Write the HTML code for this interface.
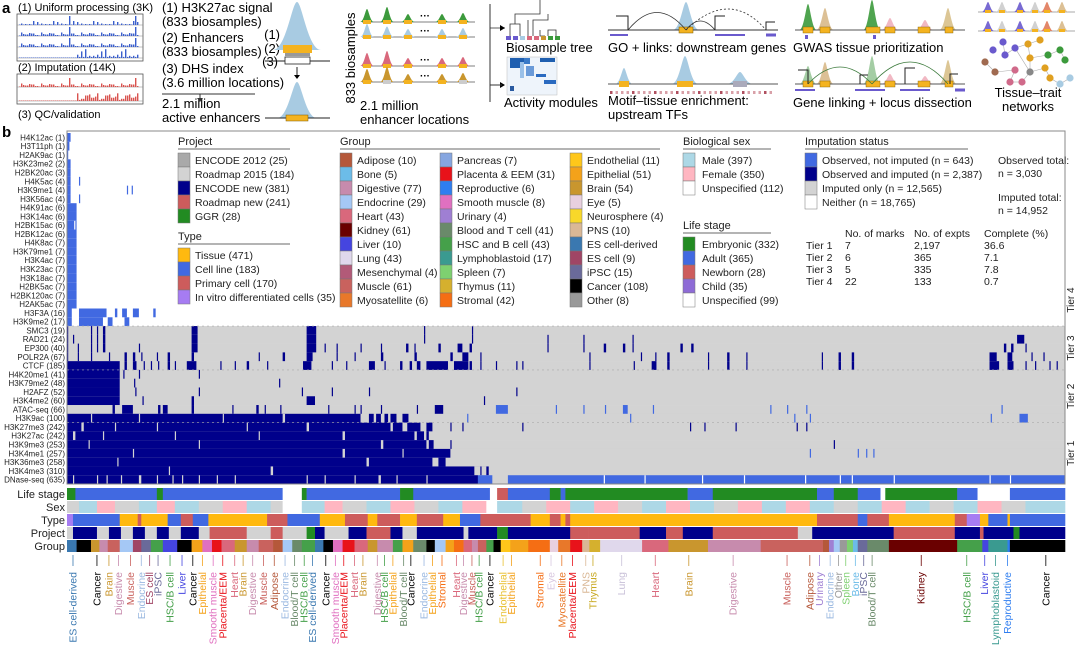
<!DOCTYPE html>
<html><head><meta charset="utf-8"><style>
html,body{margin:0;padding:0;background:#fff;width:1080px;height:645px;overflow:hidden}
svg{display:block;font-family:"Liberation Sans",Arial,sans-serif}
</style></head><body>
<svg id="fig" width="1080" height="645" viewBox="0 0 1080 645" xmlns="http://www.w3.org/2000/svg">
<g id="panelA">
<text x="2" y="13" font-size="15" font-weight="bold">a</text>
<text x="18" y="11" font-size="11">(1) Uniform processing (3K)</text>
<rect x="17" y="14" width="126" height="47" fill="none" stroke="#555" stroke-width="0.8"/>
<text x="18" y="71" font-size="11">(2) Imputation (14K)</text>
<rect x="17" y="74" width="126" height="30" fill="none" stroke="#555" stroke-width="0.8"/>
<text x="18" y="118" font-size="11">(3) QC/validation</text>
<g font-size="13">
<text x="162" y="12">(1) H3K27ac signal</text>
<text x="162" y="26">(833 biosamples)</text>
<text x="162" y="42">(2) Enhancers</text>
<text x="162" y="56">(833 biosamples)</text>
<text x="162" y="73">(3) DHS index</text>
<text x="162" y="87">(3.6 million locations)</text>
<text x="162" y="108">2.1 million</text>
<text x="162" y="122">active enhancers</text>
</g>
<line x1="162" y1="94" x2="255" y2="94" stroke="#333"/>
<line x1="200" y1="94" x2="200" y2="99" stroke="#333"/>
<polygon points="197,98 203,98 200,102" fill="#333"/>
<g font-size="13" text-anchor="end">
<text x="280" y="39">(1)</text><text x="280" y="53">(2)</text><text x="278" y="66">(3)</text>
</g>
<text transform="translate(355,58) rotate(-90)" font-size="13" text-anchor="middle">833 biosamples</text>
<text x="360" y="110" font-size="13">2.1 million</text>
<text x="360" y="124" font-size="13">enhancer locations</text>
<line x1="490" y1="4" x2="490" y2="102" stroke="#333"/>
<text x="506" y="52" font-size="13">Biosample tree</text>
<text x="504" y="107" font-size="13">Activity modules</text>
<text x="608" y="52" font-size="13">GO + links: downstream genes</text>
<text x="608" y="105" font-size="13">Motif–tissue enrichment:</text>
<text x="608" y="119" font-size="13">upstream TFs</text>
<text x="793" y="52" font-size="13">GWAS tissue prioritization</text>
<text x="793" y="107" font-size="13">Gene linking + locus dissection</text>
<text x="1028" y="97" font-size="13" text-anchor="middle">Tissue–trait</text>
<text x="1028" y="111" font-size="13" text-anchor="middle">networks</text>
</g>
<g id="panelB">
<text x="2" y="137" font-size="15" font-weight="bold">b</text>
</g>
</svg>
<script>
// ===== Heatmap data (sample columns 0..833) =====
const nSamples = 833;
const marks = ["H4K12ac (1)","H3T11ph (1)","H2AK9ac (1)","H3K23me2 (2)","H2BK20ac (3)","H4K5ac (4)","H3K9me1 (4)","H3K56ac (4)","H4K91ac (6)","H3K14ac (6)","H2BK15ac (6)","H2BK12ac (6)","H4K8ac (7)","H3K79me1 (7)","H3K4ac (7)","H3K23ac (7)","H3K18ac (7)","H2BK5ac (7)","H2BK120ac (7)","H2AK5ac (7)","H3F3A (16)","H3K9me2 (17)","SMC3 (19)","RAD21 (24)","EP300 (40)","POLR2A (67)","CTCF (185)","H4K20me1 (41)","H3K79me2 (48)","H2AFZ (52)","H3K4me2 (60)","ATAC-seq (66)","H3K9ac (100)","H3K27me3 (242)","H3K27ac (242)","H3K9me3 (253)","H3K4me1 (257)","H3K36me3 (258)","H3K4me3 (310)","DNase-seq (635)"];
const markTier = [4,4,4,4,4,4,4,4,4,4,4,4,4,4,4,4,4,4,4,4,4,4,3,3,3,3,3,2,2,2,2,2,2,1,1,1,1,1,1,1];
// segments per mark: [startSample, endSample, status] status 1=observed only, 2=observed+imputed, 3=imputed only, 0=neither
const seg4b = [[0,8,1]];
const segments = [
 [[0,3,1]],[[0,2,1]],[[0,1,1]],[[0,3,1]],[[0,3,1]],
 [[0,3,1],[10,11,1]],
 [[0,3,1],[50,51,1],[54,55,1]],
 [[0,3,1],[10,11,1]],
 seg4b,seg4b,[[0,6,1],[7,8,1]],seg4b,seg4b,seg4b,seg4b,seg4b,seg4b,seg4b,seg4b,seg4b,
 [[0,4,1],[10,33,1],[40,42,1],[46,50,1],[55,60,1],[72,74,1]],
 [[0,4,1],[10,30,1],[34,38,1],[48,52,1]],
 [[0,1,2],[20,21,2],[25,26,2],[30,32,2],[104,109,2],[200,208,2],[298,299,2],[338,339,2]],
 [[0,1,2],[5,6,2],[20,21,2],[25,26,2],[30,32,2],[104,109,2],[200,208,2],[298,299,2],[338,339,2],[401,402,2],[431,432,2],[472,473,2],[793,799,2]],
 [[0,1,2],[9,10,2],[20,21,2],[25,26,2],[30,32,2],[60,61,2],[104,109,2],[200,208,2],[215,216,2],[225,226,2],[245,246,2],[262,263,2],[283,285,2],[290,291,2],[310,312,2],[326,330,2],[336,338,2],[401,402,2],[431,432,2],[448,450,2],[464,466,2],[472,473,2],[512,514,2],[521,523,2],[782,784,2],[788,790,2],[800,801,2]],
 [[0,1,2],[9,10,2],[20,21,2],[35,36,2],[48,50,2],[55,57,2],[62,63,2],[75,76,2],[84,86,2],[104,106,2],[160,161,2],[180,182,2],[200,205,2],[225,226,2],[240,241,2],[262,264,2],[290,292,2],[320,322,2],[330,335,2],[345,346,2],[436,437,2],[479,480,2],[491,492,2],[501,503,2],[535,536,2],[551,553,2],[567,568,2],[630,631,2],[644,646,2],[655,657,2],[770,776,2],[785,789,2],[805,806,2],[815,816,2]],
 [[0,44,2],[48,50,2],[55,58,2],[64,65,2],[70,71,2],[76,77,2],[84,86,2],[90,91,2],[100,108,2],[128,129,2],[140,141,2],[150,152,2],[167,168,2],[197,204,2],[221,222,2],[233,234,2],[252,257,2],[265,266,2],[278,280,2],[286,288,2],[292,295,2],[300,318,2],[323,335,2],[336,338,2],[345,346,2],[358,359,2],[375,376,2],[380,381,2],[436,437,2],[473,474,2],[488,492,2],[501,503,2],[535,536,2],[551,553,2],[567,568,2],[630,631,2],[644,646,2],[655,657,2],[770,778,2],[785,790,2],[800,801,2],[808,809,2],[820,821,2],[826,827,2]],
 [[0,44,2],[47,48,2],[60,61,2],[110,111,2]],
 [[0,44,2],[56,57,2],[177,178,2]],
 [[0,44,2],[57,58,2],[110,111,2],[196,197,2],[221,222,2],[252,253,2],[375,376,2]],
 [[0,44,2],[63,64,2],[104,106,2],[200,207,2],[348,349,2]],
 [[38,40,2],[46,55,2],[76,78,2],[80,84,2],[104,106,2],[138,139,2],[158,160,2],[165,166,2],[178,179,2],[218,219,2],[240,241,2],[245,246,2],[262,263,2],[292,293,2],[307,314,2],[358,368,1],[408,409,1],[431,432,1],[449,450,1],[464,468,1],[489,490,1],[587,588,1],[601,602,1],[617,618,1],[780,781,1]],
 [[0,245,2],[20,21,3],[60,61,3],[130,131,3],[180,182,3],[252,256,2],[258,262,2],[265,268,2],[270,275,2],[280,285,2],[334,335,1],[470,471,1],[607,608,1],[620,621,1],[771,772,1],[795,802,1]],
 [[0,270,2],[12,14,3],[40,41,3],[75,76,3],[150,151,3],[200,202,3],[272,280,2],[284,295,2],[300,305,2],[320,321,2],[330,331,2],[380,381,2],[520,521,2],[532,533,2],[558,559,2],[609,610,2],[617,618,2]],
 [[0,290,2],[5,7,3],[30,31,3],[90,91,3],[160,161,3],[230,232,3],[292,298,2],[300,302,2]],
 [[0,300,2],[18,19,3],[110,111,3],[262,264,3],[302,306,2],[320,321,2],[640,641,2]],
 [[0,320,2],[55,56,3],[230,232,3],[280,281,3],[620,621,1],[660,661,1],[667,668,1],[673,674,1]],
 [[0,316,2],[42,43,3],[250,252,3],[305,310,3]],
 [[0,352,2],[85,86,3],[170,172,3],[340,345,3],[346,350,3]],
 [[0,343,2],[5,6,3],[25,26,3],[33,34,3],[45,46,3],[60,62,3],[75,76,3],[88,89,3],[96,97,3],[110,111,3],[125,126,3],[140,141,3],[200,201,3],[215,216,3],[240,241,3],[260,262,3],[275,276,3],[300,301,3],[343,355,1],[368,833,1],[448,449,0],[482,483,0],[530,531,0],[565,566,0],[616,617,0],[645,646,0],[655,656,0],[690,691,0],[770,771,0],[787,788,0]]
];
// ===== Annotation tracks: runs [endSample, category] =====
const lifeStageRuns = [[7,'E'],[75,'A'],[80,'E'],[180,'A'],[196,'W'],[200,'E'],[278,'A'],[289,'E'],[353,'A'],[359,'W'],[368,'N'],[403,'A'],[412,'E'],[416,'A'],[518,'E'],[539,'A'],[626,'E'],[640,'A'],[660,'E'],[679,'A'],[683,'W'],[743,'E'],[760,'A'],[787,'W'],[833,'A']];
const sexRuns = [[10,'U'],[25,'M'],[40,'F'],[60,'U'],[75,'M'],[90,'F'],[110,'M'],[130,'U'],[150,'F'],[170,'M'],[180,'U'],[196,'W'],[215,'M'],[230,'F'],[250,'U'],[270,'M'],[290,'F'],[310,'U'],[330,'M'],[350,'F'],[359,'W'],[380,'M'],[400,'U'],[420,'F'],[440,'M'],[460,'F'],[480,'U'],[500,'M'],[520,'F'],[540,'M'],[560,'U'],[580,'F'],[600,'M'],[620,'F'],[640,'M'],[660,'U'],[680,'M'],[700,'F'],[720,'M'],[740,'U'],[760,'M'],[780,'F'],[800,'U'],[833,'M']];
const typeRuns = [[5,'V'],[44,'C'],[59,'T'],[62,'P'],[84,'T'],[95,'C'],[105,'P'],[118,'C'],[167,'T'],[184,'P'],[211,'C'],[232,'T'],[251,'P'],[259,'T'],[278,'P'],[292,'T'],[314,'P'],[328,'T'],[345,'C'],[387,'P'],[403,'T'],[412,'P'],[416,'T'],[420,'P'],[626,'T'],[660,'P'],[668,'C'],[686,'P'],[741,'T'],[751,'P'],[762,'V'],[769,'T'],[785,'C'],[787,'T'],[833,'C']];
const projectRuns = [[5,'R'],[25,'N'],[35,'R'],[45,'N'],[55,'R'],[65,'N'],[75,'R'],[85,'N'],[95,'R'],[110,'N'],[119,'R'],[150,'RN'],[170,'R'],[180,'RN'],[200,'R'],[207,'G'],[215,'N'],[235,'R'],[250,'N'],[270,'RN'],[280,'N'],[292,'R'],[331,'N'],[335,'R'],[359,'N'],[368,'G'],[420,'N'],[435,'RN'],[478,'RN'],[500,'N'],[514,'RN'],[539,'N'],[579,'RN'],[610,'RN'],[622,'R'],[690,'N'],[741,'RN'],[762,'N'],[765,'RN'],[790,'N'],[795,'G'],[833,'N']];
const groupRuns = [[8,'ESd'],[20,'cancer'],[27,'brain'],[34,'dig'],[44,'muscle'],[55,'endo'],[62,'ES'],[70,'iPSC'],[80,'HSC'],[92,'liver'],[104,'cancer'],[113,'epi'],[121,'smooth'],[129,'placenta'],[140,'heart'],[150,'brain'],[160,'dig'],[172,'muscle'],[180,'adipose'],[188,'endo'],[196,'blood'],[207,'HSC'],[214,'ESd'],[222,'cancer'],[230,'smooth'],[240,'placenta'],[251,'heart'],[259,'brain'],[272,'dig'],[280,'HSC'],[289,'epi'],[300,'blood'],[307,'cancer'],[316,'endo'],[323,'epi'],[331,'stromal'],[338,'heart'],[343,'dig'],[350,'muscle'],[356,'HSC'],[362,'cancer'],[370,'endoth'],[385,'epi'],[403,'stromal'],[410,'eye'],[420,'myosat'],[430,'placenta'],[436,'pns'],[445,'thymus'],[480,'lung'],[502,'heart'],[535,'brain'],[579,'dig'],[631,'muscle'],[636,'adipose'],[640,'urinary'],[645,'endo'],[651,'other'],[656,'spleen'],[660,'bone'],[668,'iPSC'],[686,'blood'],[743,'kidney'],[764,'HSC'],[769,'liver'],[785,'lympho'],[787,'repro'],[833,'cancer']];
// group callout labels: [sampleIndex, label, groupKey]
const groupLabels = [[5,'ES cell-derived','ESd'],[25,'Cancer','cancer'],[35,'Brain','brain'],[43,'Digestive','dig'],[53,'Muscle','muscle'],[62,'Endocrine','endo'],[69,'ES cell','ES'],[76,'iPSC','iPSC'],[86,'HSC/B cell','HSC'],[96,'Liver','liver'],[105,'Cancer','cancer'],[113,'Epithelial','epi'],[122,'Smooth muscle','smooth'],[130,'Placenta/EEM','placenta'],[140,'Heart','heart'],[147,'Brain','brain'],[155,'Digestive','dig'],[164,'Muscle','muscle'],[173,'Adipose','adipose'],[182,'Endocrine','endo'],[190,'Blood/T cell','blood'],[198,'HSC/B cell','HSC'],[205,'ES cell-derived','ESd'],[216,'Cancer','cancer'],[224,'Smooth muscle','smooth'],[231,'Placenta/EEM','placenta'],[240,'Heart','heart'],[247,'Brain','brain'],[259,'Digestive','dig'],[265,'HSC/B cell','HSC'],[272,'Epithelial','epi'],[281,'Blood/T cell','blood'],[287,'Cancer','cancer'],[298,'Endocrine','endo'],[305,'Epithelial','epi'],[313,'Stromal','stromal'],[325,'Heart','heart'],[331,'Digestive','dig'],[338,'Muscle','muscle'],[344,'HSC/B cell','HSC'],[353,'Cancer','cancer'],[364,'Endothelial','endoth'],[371,'Epithelial','epi'],[395,'Stromal','stromal'],[404,'Eye','eye'],[413,'Myosatellite','myosat'],[422,'Placenta/EEM','placenta'],[433,'PNS','pns'],[439,'Thymus','thymus'],[463,'Lung','lung'],[491,'Heart','heart'],[519,'Brain','brain'],[556,'Digestive','dig'],[601,'Muscle','muscle'],[620,'Adipose','adipose'],[628,'Urinary','urinary'],[637,'Endocrine','endo'],[644,'Other','other'],[650,'Spleen','spleen'],[658,'Bone','bone'],[665,'iPSC','iPSC'],[672,'Blood/T cell','blood'],[713,'Kidney','kidney'],[751,'HSC/B cell','HSC'],[766,'Liver','liver'],[775,'Lymphoblastoid','lympho'],[785,'Reproductive','repro'],[817,'Cancer','cancer']];
// legend data
const projectLegend = [['ENCODE 2012 (25)','E12'],['Roadmap 2015 (184)','R'],['ENCODE new (381)','N'],['Roadmap new (241)','RN'],['GGR (28)','G']];
const typeLegend = [['Tissue (471)','T'],['Cell line (183)','C'],['Primary cell (170)','P'],['In vitro differentiated cells (35)','V']];
const groupLegend1 = [['Adipose (10)','adipose'],['Bone (5)','bone'],['Digestive (77)','dig'],['Endocrine (29)','endo'],['Heart (43)','heart'],['Kidney (61)','kidney'],['Liver (10)','liver'],['Lung (43)','lung'],['Mesenchymal (4)','mesench'],['Muscle (61)','muscle'],['Myosatellite (6)','myosat']];
const groupLegend2 = [['Pancreas (7)','pancreas'],['Placenta & EEM (31)','placenta'],['Reproductive (6)','repro'],['Smooth muscle (8)','smooth'],['Urinary (4)','urinary'],['Blood and T cell (41)','blood'],['HSC and B cell (43)','HSC'],['Lymphoblastoid (17)','lympho'],['Spleen (7)','spleen'],['Thymus (11)','thymus'],['Stromal (42)','stromal']];
const groupLegend3 = [['Endothelial (11)','endoth'],['Epithelial (51)','epi'],['Brain (54)','brain'],['Eye (5)','eye'],['Neurosphere (4)','neuro'],['PNS (10)','pns'],['ES cell-derived','ESd'],['ES cell (9)','ES'],['iPSC (15)','iPSC'],['Cancer (108)','cancer'],['Other (8)','other']];
const sexLegend = [['Male (397)','M'],['Female (350)','F'],['Unspecified (112)','W']];
const lifeLegend = [['Embryonic (332)','E'],['Adult (365)','A'],['Newborn (28)','N'],['Child (35)','Ch'],['Unspecified (99)','W']];
const imputeLegend = ['Observed, not imputed (n = 643)','Observed and imputed (n = 2,387)','Imputed only (n = 12,565)','Neither (n = 18,765)'];
const tierNames = ['Tier 1','Tier 2','Tier 3','Tier 4'];
const tierMarks = ['7','6','5','22'];
const tierExpts = ['2,197','365','335','133'];
const tierComplete = ['36.6','7.1','7.8','0.7'];

// ===== colours =====
const statusColor = {0:'#ffffff',1:'#4169e1',2:'#00008b',3:'#d3d3d3'};
const lifeColor = {E:'#228b22',A:'#4169e1',N:'#cd5c5c',Ch:'#8e6bd6',W:'#ffffff'};
const sexColor = {M:'#add8e6',F:'#ffb6c1',U:'#d3d3d3',W:'#ffffff'};
const typeColor = {T:'#ffb90f',C:'#4169e1',P:'#cd5c5c',V:'#a67cf2'};
const projColor = {E12:'#a9a9a9',R:'#d3d3d3',N:'#00008b',RN:'#cd5c5c',G:'#228b22'};
const grpColor = {adipose:'#b5583a',bone:'#6cbce8',dig:'#c78bad',endo:'#a5c8f5',heart:'#d9687c',kidney:'#6a0000',liver:'#4545e0',lung:'#e0d8ec',mesench:'#b25a78',muscle:'#c9625e',myosat:'#e8782a',pancreas:'#86a6e0',placenta:'#e8121a',repro:'#2f7ef0',smooth:'#e070c0',urinary:'#9f7fd3',blood:'#6a8a6a',HSC:'#45a04a',lympho:'#3a9a90',spleen:'#7ed070',thymus:'#d5b02e',stromal:'#f56e14',endoth:'#ffc71a',epi:'#f4a21a',brain:'#c9962e',eye:'#e8d0e0',neuro:'#f8d82a',pns:'#dab896',ESd:'#3a78b0',ES:'#a04565',iPSC:'#6a6a9a',cancer:'#000000',other:'#999999'};
const labelColor = Object.assign({}, grpColor, {lung:'#c8c0d8',eye:'#d8c8e0',endo:'#9ab8e0',thymus:'#c8a820',endoth:'#e8c030'});

// ===== scales =====
const HX0 = 67, HX1 = 1065, HY0 = 133, HY1 = 484;
const rowH = (HY1 - HY0) / marks.length;
const xScale = s => HX0 + s * (HX1 - HX0) / nSamples;
const yRow = i => HY0 + i * rowH;

const NS = 'http://www.w3.org/2000/svg';
const svg = document.getElementById('fig');
function mk(tag, attrs, parent) {
  const el = document.createElementNS(NS, tag);
  for (const k in attrs) el.setAttribute(k, attrs[k]);
  (parent || svg).appendChild(el);
  return el;
}
function txt(str, attrs, parent) { const t = mk('text', attrs, parent); t.textContent = str; return t; }

// ===== Panel a decorations =====
function peak(g, cx, base, h, w, color, op) {
  const d = `M${cx-w*2.2},${base} C${cx-w},${base} ${cx-w*0.45},${base-h} ${cx},${base-h} C${cx+w*0.45},${base-h} ${cx+w},${base} ${cx+w*2.2},${base} Z`;
  const p = mk('path', {d: d, fill: color, opacity: op || 1}, g);
  
  
  return p;
}
const pa = document.getElementById('panelA');
const trackGroup = mk('g', {}, pa);


[[25,'#3a5fcd'],[36,'#3a5fcd'],[47,'#3a5fcd'],[58,'#3a5fcd'],[87,'#d9534f'],[101,'#d9534f']].forEach((t,k)=>{
  mk('line',{x1:17,x2:143,y1:t[0],y2:t[0],stroke:'#888','stroke-width':0.6},trackGroup);
  const hs = k%3===0?[1,2,1,6,1,2,1,3,1,8]:[1,3,5,2,4,6,2,7,3,5];
  for (let j=0;j<60;j++){
    const x = 19 + j*2;
    const late = (k===3||k===5);
    let hh = hs[(j*7)%10]*0.5;
    if (late) hh = j>28 ? hs[(j*3)%10]*1.1 : 0.5;
    if (!late && (j===25||j===58)) hh = 9;
    mk('rect',{x:x,y:t[0]-hh,width:1.4,height:hh,fill:t[1]},trackGroup);
  }
});
const cone = mk('g',{},pa);


peak(cone,297,50,48,11,'#a8cbe2');
mk('rect',{x:283,y:45,width:29,height:8,fill:'#f4b320'},cone);
mk('rect',{x:285,y:53,width:25,height:3,fill:'#999'},cone);
mk('line',{x1:265,y1:61,x2:330,y2:61,stroke:'#222'},cone);
mk('rect',{x:285,y:57,width:25,height:7,fill:'#fff',stroke:'#222','stroke-width':0.8},cone);
mk('line',{x1:297,y1:67,x2:297,y2:76,stroke:'#222'},cone);
mk('polygon',{points:'294,75 300,75 297,79'},cone);
peak(cone,297,118,36,9,'#a8cbe2');
mk('line',{x1:265,y1:118,x2:330,y2:118,stroke:'#222'},cone);
mk('rect',{x:286,y:115,width:22,height:6,fill:'#f4b320',stroke:'#7a5a00','stroke-width':0.5},cone);
const rowsG = mk('g',{},pa);


[[22,'#3c9a3c'],[37,'#a8cbe2'],[66,'#d9687c'],[82,'#c9962e']].forEach(r=>{
  mk('line',{x1:362,y1:r[0],x2:475,y2:r[0],stroke:'#555','stroke-width':0.7},rowsG);
  [[367,13],[387,15],[408,8],[442,8],[463,9]].forEach((p,k)=>{
    peak(rowsG,p[0],r[0],p[1]*(r[1]==='#a8cbe2'&&k==1?0.7:1),3.2,r[1]);
    mk('rect',{x:p[0]-4,y:r[0]-2,width:8,height:4,fill:k%3==1&&r[0]>75?'#ccc':'#f4b320'},rowsG);
  });
  txt('···',{x:420,y:r[0]-3,'font-size':10,'font-weight':'bold'},rowsG);
});
const tree = mk('g',{},pa);


['M505,28 H490','M510,36 V24 H520 V36','M515,24 V14 H540 V4','M533,36 V20 H548 V14','M528,20 V36','M540,30 V36 H545','M548,36 V30 H556 V36','M540,4 V0'].forEach(d=>mk('path',{d:d,fill:'none',stroke:'#333','stroke-width':0.8},tree));
mk('polygon',{points:'500,25 505,28 500,31'},tree);
mk('polygon',{points:'500,82 505,85 500,88'},tree);
mk('line',{x1:490,y1:85,x2:502,y2:85,stroke:'#333'},tree);
['#6a5acd','#6a5acd','#a8cbe2','#d9687c','#d9687c','#c9962e','#3c9a3c','#3c9a3c'].forEach((c,k)=>mk('rect',{x:506+k*7,y:36,width:5,height:4,fill:c},tree));
const act = mk('g',{},pa);


mk('rect',{x:507,y:57,width:50,height:38,fill:'#eef4fb',stroke:'#bbb','stroke-width':0.5},act);
[[510,58,14,10,'#1f5fb0'],[524,58,6,6,'#3a7ac8'],[540,58,15,4,'#1f5fb0'],[526,66,8,10,'#6a9ad8'],[536,74,10,3,'#2a6ac0'],[544,80,12,4,'#2a6ac0'],[510,86,4,5,'#2a5aa0'],[520,62,4,16,'#9ac0e8']].forEach(b=>mk('rect',{x:b[0],y:b[1],width:b[2],height:b[3],fill:b[4]},act));
const go = mk('g',{},pa);


peak(go,686,30,28,6,'#a8cbe2');
mk('line',{x1:608,y1:30,x2:778,y2:30,stroke:'#333'},go);
mk('rect',{x:679,y:27,width:14,height:6,fill:'#f4b320',stroke:'#7a5a00','stroke-width':0.5},go);
mk('path',{d:'M628,30 Q657,-5 686,30',fill:'none',stroke:'#333','stroke-width':0.8},go);
mk('path',{d:'M686,30 Q700,12 715,30',fill:'none',stroke:'#333','stroke-width':0.8},go);
mk('path',{d:'M686,30 Q730,-12 766,30',fill:'none',stroke:'#333','stroke-width':0.8,'stroke-dasharray':'2,2'},go);
['M628,30 V16 H616','M715,30 V16 H725','M766,30 V22 H775'].forEach(d=>mk('path',{d:d,fill:'none',stroke:'#222'},go));
mk('line',{x1:610,y1:35,x2:628,y2:35,stroke:'#6a5acd','stroke-width':2},go);
mk('line',{x1:715,y1:35,x2:745,y2:35,stroke:'#6a5acd','stroke-width':2},go);
mk('line',{x1:766,y1:35,x2:776,y2:35,stroke:'#6a5acd','stroke-width':3},go);
const mo = mk('g',{},pa);


peak(mo,624,84,16,4,'#a8cbe2');peak(mo,685,84,28,6,'#a8cbe2');peak(mo,740,84,12,6,'#a8cbe2');
mk('line',{x1:608,y1:84,x2:778,y2:84,stroke:'#555'},mo);
mk('rect',{x:619,y:81,width:10,height:6,fill:'#f4b320'},mo);
mk('rect',{x:677,y:81,width:16,height:6,fill:'#f4b320'},mo);
mk('rect',{x:733,y:81,width:14,height:6,fill:'#aab'},mo);
for(let k=0;k<30;k++) mk('rect',{x:610+k*5.5,y:91,width:2.5,height:3,fill:k%4?'#d8a0a8':'#b05060'},mo);
const gw = mk('g',{},pa);


[[808,26,'#3c9a3c'],[825,22,'#d8b98a'],[872,30,'#3c9a3c'],[890,12,'#f0b0bc'],[925,10,'#f0b0bc'],[948,22,'#d8c08a']].forEach(p=>peak(gw,p[0],30,p[1],4,p[2],0.9));
mk('line',{x1:795,y1:30,x2:965,y2:30,stroke:'#555'},gw);
[[803,10],[820,10],[866,14],[885,10],[918,12],[945,8]].forEach(r=>mk('rect',{x:r[0],y:27,width:r[1],height:6,fill:'#f4b320',stroke:'#7a5a00','stroke-width':0.4},gw));
mk('rect',{x:805,y:35,width:3,height:4,fill:'#6a5acd'},gw);mk('rect',{x:873,y:35,width:3,height:4,fill:'#6a5acd'},gw);
const gl = mk('g',{},pa);


[[808,18,'#9ac89a'],[825,22,'#d8b98a'],[872,28,'#9ac89a'],[890,10,'#f0b0bc'],[925,8,'#f0b0bc'],[948,24,'#d8c08a']].forEach(p=>peak(gl,p[0],84,p[1],4,p[2],0.9));
mk('line',{x1:795,y1:84,x2:965,y2:84,stroke:'#555'},gl);
[[803,10],[820,10],[866,14],[885,10],[918,12],[945,8]].forEach(r=>mk('rect',{x:r[0],y:81,width:r[1],height:6,fill:'#f4b320',stroke:'#7a5a00','stroke-width':0.4},gl));
mk('path',{d:'M808,84 Q840,50 872,84',fill:'none',stroke:'#3c7a3c','stroke-width':0.8},gl);
mk('path',{d:'M872,84 Q910,40 948,84',fill:'none',stroke:'#3c7a3c','stroke-width':0.8},gl);
['M808,84 V70 H798','M860,84 V75 H868','M905,84 V68 H915','M950,84 V74 H958'].forEach(d=>mk('path',{d:d,fill:'none',stroke:'#222'},gl));
mk('line',{x1:795,y1:90,x2:815,y2:90,stroke:'#6a5acd','stroke-width':2},gl);
mk('line',{x1:855,y1:90,x2:885,y2:90,stroke:'#6a5acd','stroke-width':2},gl);
mk('line',{x1:900,y1:90,x2:930,y2:90,stroke:'#6a5acd','stroke-width':2},gl);
mk('line',{x1:955,y1:90,x2:965,y2:90,stroke:'#6a5acd','stroke-width':3},gl);
const nw = mk('g',{},pa);


[12,31].forEach(b=>{
  mk('line',{x1:978,y1:b,x2:1075,y2:b,stroke:'#555','stroke-width':0.6},nw);
  [[988,'#6a5acd'],[1002,'#ccc'],[1020,'#6a5acd'],[1035,'#ccc'],[1047,'#e07a5a'],[1062,'#d8b98a']].forEach(p=>{peak(nw,p[0],b,10,3,p[1],0.9);mk('rect',{x:p[0]-3,y:b-2,width:6,height:3,fill:'#f4b320'},nw);});
});
const nodes=[[1003,42,'#6a5acd'],[993,50,'#6a5acd'],[1005,55,'#6a5acd'],[1015,48,'#6a5acd'],[1028,44,'#e0a020'],[1040,40,'#e0a020'],[1030,58,'#e0a020'],[1048,55,'#3c9a3c'],[1060,50,'#3c9a3c'],[1065,60,'#3c9a3c'],[985,62,'#a06a50'],[995,72,'#a06a50'],[1015,70,'#d06a8a'],[1010,82,'#d06a8a'],[1022,82,'#d06a8a'],[1030,72,'#888'],[1045,68,'#e0a020'],[1050,78,'#e0a020'],[1060,84,'#a8cbe2'],[1070,78,'#a8cbe2']];
[[0,2],[2,3],[3,4],[4,5],[4,6],[6,7],[7,8],[8,9],[10,11],[11,12],[12,13],[13,14],[14,15],[15,16],[16,17],[17,18],[18,19],[3,15],[6,15]].forEach(e=>mk('line',{x1:nodes[e[0]][0],y1:nodes[e[0]][1],x2:nodes[e[1]][0],y2:nodes[e[1]][1],stroke:'#aaa','stroke-width':0.6},nw));
nodes.forEach(n=>mk('circle',{cx:n[0],cy:n[1],r:3.6,fill:n[2]},nw));

// ===== Panel b heatmap =====
const pb = document.getElementById('panelB');
const hm = mk('g',{},pb);


marks.forEach((m,i)=>{
  const bg = markTier[i] === 4 ? '#ffffff' : '#d3d3d3';
  const r = mk('rect',{x:HX0,y:yRow(i),width:HX1-HX0,height:rowH+0.3,fill:bg},hm);
  
  
  segments[i].forEach(s=>{
    const c = mk('rect',{x:xScale(s[0]),y:yRow(i),width:Math.max(0.9,xScale(s[1])-xScale(s[0])),height:rowH+0.3,fill:statusColor[s[2]]},hm);
    
    
  });
  const lb = txt(m,{x:65,y:yRow(i)+rowH/2+3,'font-size':8,'text-anchor':'end',fill:'#222'},pb);
  
  
});
[22,27,33].forEach(i=>{
  const l = mk('line',{x1:HX0,x2:HX1,y1:yRow(i),y2:yRow(i),stroke:'#aaa','stroke-width':0.6,'stroke-dasharray':'2,3'},hm);
  
  
});
const frame = mk('rect',{x:HX0,y:HY0-2,width:HX1-HX0,height:HY1-HY0+2,fill:'none',stroke:'#888','stroke-width':1},pb);


[[1,0],[2,0],[3,0],[4,300]].forEach(t=>{
  const rows = markTier.map((v,i)=>v===t[0]?i:-1).filter(i=>i>=0);
  const cy = t[0]===4 ? t[1] : (yRow(rows[0]) + yRow(rows[rows.length-1]+1))/2;
  const tl = txt('Tier '+t[0],{transform:`translate(1074,${cy}) rotate(-90)`,'font-size':10,'text-anchor':'middle',fill:'#222'},pb);
  
  
});
const tracks = [['Life stage',lifeStageRuns,lifeColor,488],['Sex',sexRuns,sexColor,501],['Type',typeRuns,typeColor,514],['Project',projectRuns,projColor,527],['Group',groupRuns,grpColor,540]];
tracks.forEach(t=>{
  const g = mk('g',{},pb);
  
  
  let prev = 0;
  t[1].forEach(r=>{
    const c = mk('rect',{x:xScale(prev),y:t[3],width:xScale(r[0])-xScale(prev)+0.3,height:12,fill:t[2][r[1]]},g);
    
    
    prev = r[0];
  });
  const l = txt(t[0],{x:65,y:t[3]+10,'font-size':11,'text-anchor':'end',fill:'#222'},pb);
  
  
});
groupLabels.forEach(gl=>{
  const x = xScale(gl[0]);
  const col = labelColor[gl[2]];
  const tk = mk('line',{x1:x,y1:555,x2:x,y2:566,stroke:col,'stroke-width':0.8},pb);
  
  
  const t = txt(gl[1],{transform:`translate(${x+3.5},572) rotate(-90)`,'font-size':10.5,'text-anchor':'end',fill:col},pb);
  
  
});
function legendBlock(title, x, ty, lineW, entries, colors, textX, bgW) {
  const g = mk('g',{},pb);
  
  
  if (bgW) mk('rect',{x:x-2,y:ty-11,width:bgW,height:entries.length*14+20,fill:'#fff'},g);
  if (title) {
    const tt = txt(title,{x:x,y:ty,'font-size':11,fill:'#222'},g);
    
    
    mk('line',{x1:x,x2:x+lineW,y1:ty+4,y2:ty+4,stroke:'#888','stroke-width':1.2},g);
  }
  entries.forEach((e,k)=>{
    const y = ty + 8 + k*14;
    const sw = mk('rect',{x:x,y:y,width:12,height:14,fill:colors[e[1]],stroke:'#777','stroke-width':0.5},g);
    
    
    const lt = txt(e[0],{x:x+(textX||17),y:y+11,'font-size':10.5,fill:'#222'},g);
    
    
  });
}
legendBlock('Project',178,145,112,projectLegend,projColor,17,150);
legendBlock('Type',178,240,112,typeLegend,typeColor,17,158);
legendBlock('Group',340,145,320,groupLegend1,grpColor,17,330);
legendBlock('',440,145,0,groupLegend2,grpColor,17,0);
legendBlock('',570,145,0,groupLegend3,grpColor,17,0);
legendBlock('Biological sex',683,145,88,sexLegend,sexColor,19,110);
legendBlock('Life stage',683,229,88,lifeLegend,lifeColor,19,110);
legendBlock('Imputation status',805,145,163,imputeLegend.map((s,k)=>[s,k]),{0:'#4169e1',1:'#00008b',2:'#d3d3d3',3:'#ffffff'},17,255);
[['Observed total:',164],['n = 3,030',177],['Imputed total:',201],['n = 14,952',214]].forEach(o=>{
  const t = txt(o[0],{x:998,y:o[1],'font-size':10.5,fill:'#222'},pb);
  
  
});
const thead = [['No. of marks',845],['No. of expts',914],['Complete (%)',984]];
thead.forEach(h=>{
  const t = txt(h[0],{x:h[1],y:237,'font-size':10.5,fill:'#222'},pb);
  
  
});
tierNames.forEach((n,k)=>{
  const y = 249 + k*12;
  [[n,806],[tierMarks[k],845],[tierExpts[k],914],[tierComplete[k],984]].forEach(c=>{
    const t = txt(c[0],{x:c[1],y:y,'font-size':10.5,fill:'#222'},pb);
    
    
  });
});
</script>
</body></html>
